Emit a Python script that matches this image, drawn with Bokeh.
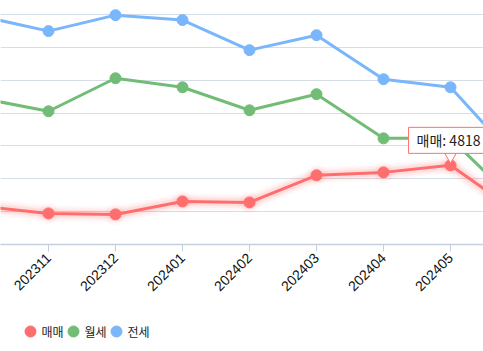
import numpy as np
from bokeh.plotting import figure
from bokeh.layouts import column
from bokeh.models import Range1d, FixedTicker, Label
from bokeh.core.properties import value
from bokeh.embed import file_html
from bokeh.resources import INLINE

months = ["202310", "202311", "202312", "202401", "202402", "202403", "202404", "202405", "202406"]
sale = [2320, 1890, 1830, 2620, 2560, 4210, 4390, 4818, 1950]      # 매매
monthly = [8900, 8110, 10120, 9570, 8170, 9150, 6460, 6460, 2500]  # 월세
jeonse = [13890, 12990, 13960, 13660, 11830, 12740, 10060, 9570, 5120]  # 전세

series_names = ["매매", "월세", "전세"]
colors = ["#ff6e6e", "#72bd76", "#7ab6fb"]

xs = list(range(len(months)))

p = figure(width=483, height=300, output_backend="svg", toolbar_location=None,
           x_range=Range1d(0.2836, 7.4925), y_range=Range1d(0, 14852),
           min_border_left=0, min_border_right=0, min_border_top=0,
           min_border_bottom=56, y_axis_location=None)
p.outline_line_color = None
p.xgrid.grid_line_color = None
p.ygrid.grid_line_color = "#d5dde8"
p.ygrid.grid_line_width = 1
p.ygrid.ticker = FixedTicker(ticks=[0, 2000, 4000, 6000, 8000, 10000, 12000, 14000])

ax = p.xaxis[0]
ax.ticker = FixedTicker(ticks=xs)
ax.major_label_overrides = {i: m for i, m in enumerate(months)}
ax.major_label_orientation = np.pi / 4
ax.axis_line_color = "#c5d0de"
ax.axis_line_width = 1.5
ax.major_tick_line_color = "#c5d0de"
ax.major_tick_out = 7
ax.major_tick_in = 0
ax.minor_tick_line_color = None
ax.major_label_text_font = "Liberation Sans"
ax.major_label_text_font_size = "14px"
ax.major_label_text_color = "#111111"
ax.major_label_standoff = 4

# glow under the sale line
for w, a in [(16, 0.05), (12, 0.07), (8, 0.12)]:
    p.line(xs, sale, line_color=colors[0], line_width=w, line_alpha=a, line_join="round")
    p.scatter(xs, sale, size=w + 6, fill_color=colors[0], fill_alpha=a * 0.6, line_color=None)

for name, vals, c in zip(series_names, [sale, monthly, jeonse], colors):
    p.line(xs, vals, line_color=c, line_width=3)
    p.scatter(xs, vals, size=11, fill_color=c, line_color=c)

# tooltip for 202405 sale
idx = 7
px_per_unit = 230 / 14000.0
p.scatter([idx], [sale[idx] + 9 / px_per_unit], marker="inverted_triangle", size=12,
          fill_color="white", line_color=colors[0], line_width=1)
tip = Label(x=idx, y=sale[idx], x_offset=-2, y_offset=25, text=f"매매: {sale[idx]}",
            text_align="center", text_baseline="middle", text_font="Noto Sans CJK KR",
            text_font_size="14px", text_color="#222222",
            background_fill_color="white", border_line_color=colors[0], border_line_width=1,
            padding=dict(left=8, right=8, top=3, bottom=3))
p.add_layout(tip)

# legend strip (pixel-like coordinates of the strip)
lg = figure(width=483, height=51, output_backend="svg", toolbar_location=None,
            x_range=Range1d(0, 483), y_range=Range1d(0, 51),
            min_border=0, x_axis_location=None, y_axis_location=None)
lg.outline_line_color = None
lg.grid.grid_line_color = None
legend_x = [30, 73, 116]
lg.scatter(legend_x, [20] * 3, size=11, fill_color=colors, line_color=colors)
lg.text([x + 11 for x in legend_x], [20] * 3, text=series_names,
        text_font=value("Noto Sans CJK KR"), text_font_size="12px",
        text_color="#222222", text_baseline="middle", text_align="left")

open("out.html", "w").write(file_html(column(p, lg, spacing=0), INLINE))
